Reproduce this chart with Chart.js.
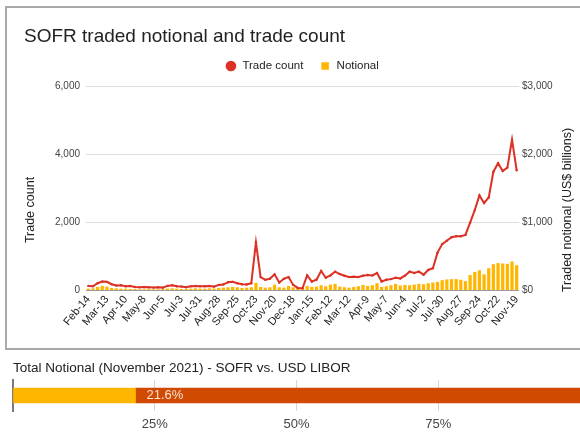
<!DOCTYPE html>
<html>
<head>
<meta charset="utf-8">
<script src="https://cdn.jsdelivr.net/npm/chart.js@4.4.1/dist/chart.umd.min.js"></script>
<style>
  html, body { margin: 0; background: #fff; overflow: hidden; }
  #page { position: relative; width: 580px; height: 433px; overflow: hidden; }
  #frame { position: absolute; left: 5px; top: 6px; width: 600px; height: 344px; box-sizing: border-box; border: 2px solid #a9a9a9; border-right: none; }
  #main { position: absolute; left: 0; top: 0; width: 580px; height: 350px; }
  #share { position: absolute; left: 0; top: 350px; width: 580px; height: 83px; }
</style>
</head>
<body>
<div id="page">
  <div id="frame"></div>
  <div id="main"><canvas id="chart1"></canvas></div>
  <div id="share"><canvas id="chart2"></canvas></div>
</div>
<script>
// weekly (Fridays) Feb-14-2020 .. Nov-19-2021
const weeks = [
  'Feb-14','Feb-21','Feb-28','Mar-6','Mar-13','Mar-20','Mar-27','Apr-3','Apr-10','Apr-17',
  'Apr-24','May-1','May-8','May-15','May-22','May-29','Jun-5','Jun-12','Jun-19','Jun-26',
  'Jul-3','Jul-10','Jul-17','Jul-24','Jul-31','Aug-7','Aug-14','Aug-21','Aug-28','Sep-4',
  'Sep-11','Sep-18','Sep-25','Oct-2','Oct-9','Oct-16','Oct-23','Oct-30','Nov-6','Nov-13',
  'Nov-20','Nov-27','Dec-4','Dec-11','Dec-18','Dec-25','Jan-1','Jan-8','Jan-15','Jan-22',
  'Jan-29','Feb-5','Feb-12','Feb-19','Feb-26','Mar-5','Mar-12','Mar-19','Mar-26','Apr-2',
  'Apr-9','Apr-16','Apr-23','Apr-30','May-7','May-14','May-21','May-28','Jun-4','Jun-11',
  'Jun-18','Jun-25','Jul-2','Jul-9','Jul-16','Jul-23','Jul-30','Aug-6','Aug-13','Aug-20',
  'Aug-27','Sep-3','Sep-10','Sep-17','Sep-24','Oct-1','Oct-8','Oct-15','Oct-22','Oct-29',
  'Nov-5','Nov-12','Nov-19'
];

const tradeCount = [
  120, 110, 200, 250, 240, 170, 130, 140, 110, 120,
  90, 80, 90, 80, 70, 80, 70, 120, 140, 110,
  100, 80, 110, 120, 110, 110, 120, 100, 150, 160,
  230, 240, 200, 170, 160, 200, 1400, 380, 300, 330,
  460, 220, 330, 380, 150, 60, 50, 430, 250, 300,
  560, 360, 430, 540, 470, 420, 380, 390, 380, 420,
  440, 430, 500, 250, 300, 320, 360, 340, 420, 540,
  500, 540, 450, 590, 640, 1100, 1350, 1450, 1550, 1580,
  1580, 1620, 1980, 2350, 2780, 2560, 2720, 3480, 3730, 3500,
  3600, 4420, 3520
];

// US$ billions
const notional = [
  20, 25, 45, 60, 50, 30, 25, 20, 20, 15,
  15, 10, 10, 15, 10, 10, 15, 20, 25, 20,
  15, 15, 20, 25, 20, 20, 25, 20, 30, 35,
  40, 45, 40, 30, 35, 40, 105, 45, 35, 40,
  80, 40, 35, 60, 40, 30, 15, 60, 45, 50,
  70, 55, 80, 90, 50, 40, 35, 45, 55, 75,
  60, 70, 100, 45, 55, 70, 90, 65, 75, 70,
  80, 90, 85, 100, 110, 120, 145, 155, 160, 160,
  150, 130, 220, 265, 290, 230, 320, 380, 395, 390,
  385, 420, 365
];

const countTicks = [0, 2000, 4000, 6000];
const notionalTicks = [0, 1000, 2000, 3000];

// November 2021 share of total notional, %
const shareLabels = ['SOFR', 'USD LIBOR'];
const shareValues = [21.6, 78.4];
const shareTicks = [25, 50, 75];

const FONT = 'Arial, "Liberation Sans", sans-serif';
Chart.defaults.font.family = FONT;
Chart.defaults.animation = false;

const RED = '#dc3124';
const YELLOW = '#ffb600';
const ORANGE = '#d04a02';

// Google-style axis titles, both read bottom to top
const axisTitles = {
  id: 'axisTitles',
  afterDraw(chart) {
    const ctx = chart.ctx;
    ctx.save();
    ctx.fillStyle = '#222';
    ctx.font = '12.5px ' + FONT;
    ctx.textAlign = 'center';
    ctx.textBaseline = 'middle';
    [[31, 'Trade count'], [568, 'Traded notional (US$ billions)']].forEach(([x, text]) => {
      ctx.save();
      ctx.translate(x, 210);
      ctx.rotate(-Math.PI / 2);
      ctx.fillText(text, 0, 0);
      ctx.restore();
    });
    ctx.restore();
  }
};

function createMainChart() {
  new Chart(document.getElementById('chart1'), {
    type: 'bar',
    data: {
      labels: weeks,
      datasets: [{
        type: 'line',
        label: 'Trade count',
        data: tradeCount,
        yAxisID: 'y',
        borderColor: RED,
        backgroundColor: RED,
        borderWidth: 2,
        pointRadius: 1.2,
        pointBorderWidth: 0,
        pointStyle: 'circle',
        tension: 0,
        order: 0
      }, {
        label: 'Notional',
        data: notional,
        yAxisID: 'y1',
        backgroundColor: YELLOW,
        barPercentage: 0.7,
        categoryPercentage: 1,
        pointStyle: 'rect',
        order: 1
      }]
    },
    options: {
      responsive: true,
      maintainAspectRatio: false,
      layout: { padding: { left: 24, right: 0, top: 0, bottom: 0 } },
      plugins: {
        title: {
          display: true,
          text: 'SOFR traded notional and trade count',
          align: 'start',
          color: '#222',
          font: { size: 19, weight: 'normal' },
          padding: { top: 25.6, bottom: -4.1 }
        },
        subtitle: {
          display: true,
          text: '',
          weight: 500,
          font: { size: 1 },
          padding: { top: 0, bottom: 3 }
        },
        legend: {
          position: 'top',
          labels: {
            usePointStyle: true,
            boxHeight: 7.5,
            color: '#222',
            font: { size: 11.5 },
            padding: 16
          }
        },
        tooltip: { enabled: false }
      },
      scales: {
        x: {
          offset: true,
          grid: { display: false, drawTicks: false },
          border: { display: false },
          ticks: {
            autoSkip: false,
            minRotation: 50,
            maxRotation: 50,
            padding: 3,
            color: '#222',
            font: { size: 11 },
            callback: (v, i) => (i % 4 === 0 ? weeks[i] : null)
          },
          afterFit: s => { s.height = 60; }
        },
        y: {
          position: 'left',
          min: countTicks[0],
          max: countTicks[countTicks.length - 1],
          afterBuildTicks: s => { s.ticks = countTicks.map(v => ({ value: v })); },
          grid: {
            drawTicks: false,
            color: c => (c.tick && c.tick.value === 0 ? '#999' : '#dedede')
          },
          border: { display: false },
          ticks: {
            padding: 6,
            color: '#444',
            font: { size: 10 },
            callback: v => v.toLocaleString('en-US')
          },
          afterFit: s => { s.width = 62; }
        },
        y1: {
          position: 'right',
          min: notionalTicks[0],
          max: notionalTicks[notionalTicks.length - 1],
          afterBuildTicks: s => { s.ticks = notionalTicks.map(v => ({ value: v })); },
          grid: { display: false, drawTicks: false },
          border: { display: false },
          ticks: {
            padding: 3,
            color: '#444',
            font: { size: 10 },
            callback: v => '$' + v.toLocaleString('en-US')
          },
          afterFit: s => { s.width = 61; }
        }
      }
    },
    plugins: [axisTitles]
  });
}

// percentage written just right of the SOFR segment
const shareLabel = {
  id: 'shareLabel',
  afterDatasetsDraw(chart) {
    const bar = chart.getDatasetMeta(0).data[0];
    const ctx = chart.ctx;
    ctx.save();
    ctx.fillStyle = '#fbe2d2';
    ctx.font = '13px ' + FONT;
    ctx.textAlign = 'left';
    ctx.textBaseline = 'middle';
    ctx.fillText(shareValues[0].toFixed(1) + '%', bar.x + 11, bar.y);
    ctx.restore();
  }
};

function createShareChart() {
  new Chart(document.getElementById('chart2'), {
    type: 'bar',
    data: {
      labels: [''],
      datasets: [{
        label: shareLabels[0],
        data: [shareValues[0]],
        backgroundColor: YELLOW,
        barThickness: 15
      }, {
        label: shareLabels[1],
        data: [shareValues[1]],
        backgroundColor: ORANGE,
        barThickness: 15
      }]
    },
    options: {
      indexAxis: 'y',
      responsive: true,
      maintainAspectRatio: false,
      layout: { padding: { left: 13, right: 0, top: 0, bottom: 0 } },
      plugins: {
        title: {
          display: true,
          text: 'Total Notional (November 2021) - SOFR vs. USD LIBOR',
          align: 'start',
          color: '#222',
          font: { size: 13.5, weight: 'normal' },
          padding: { top: 9.9, bottom: 3.9 }
        },
        legend: { display: false },
        tooltip: { enabled: false }
      },
      scales: {
        x: {
          stacked: true,
          min: 0,
          max: 100,
          grid: {
            drawTicks: false,
            color: c => (shareTicks.includes(c.tick && c.tick.value) ? '#d6d6d6' : 'rgba(0,0,0,0)')
          },
          border: { display: false },
          ticks: {
            stepSize: 25,
            padding: 6,
            color: '#444',
            font: { size: 13 },
            callback: v => (shareTicks.includes(v) ? v + '%' : '')
          },
          afterFit: s => { s.height = 22; s.paddingLeft = 0; s.paddingRight = 0; }
        },
        y: {
          stacked: true,
          grid: { display: false, drawTicks: false },
          ticks: { display: false },
          border: { display: true, color: '#7a7a7a', width: 2 },
          afterFit: s => { s.width = 0; }
        }
      }
    },
    plugins: [shareLabel]
  });
}

createMainChart();
createShareChart();
</script>
</body>
</html>
